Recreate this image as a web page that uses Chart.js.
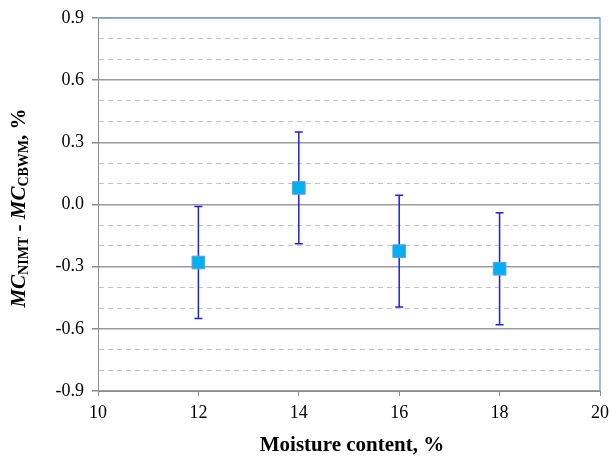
<!DOCTYPE html>
<html><head><meta charset="utf-8">
<script src="https://cdn.jsdelivr.net/npm/chart.js@4"></script>
<style>html,body{margin:0;padding:0;background:#fff}#wrap{width:610px;height:457px}</style>
</head><body><div id="wrap"><canvas id="c" width="610" height="457"></canvas></div>
<script>
const moisture = [12, 14, 16, 18];
const meanDiff = [-0.28, 0.08, -0.225, -0.31];
const errHalf = [0.27, 0.27, 0.27, 0.27];
const xTicks = [10, 12, 14, 16, 18, 20];
const yMajorTicks = [-0.9, -0.6, -0.3, 0.0, 0.3, 0.6, 0.9];

const SERIF = '"Liberation Serif","Times New Roman",serif';
const isMajor = v => Math.abs(Math.round(v * 10)) % 3 === 0;

const errorBars = {
  id: 'errorBars',
  beforeDatasetsDraw(chart) {
    const ctx = chart.ctx, xs = chart.scales.x, ys = chart.scales.y;
    ctx.save();
    ctx.strokeStyle = '#1f1fee';
    ctx.lineWidth = 1.5;
    moisture.forEach((m, i) => {
      const px = xs.getPixelForValue(m);
      const top = ys.getPixelForValue(meanDiff[i] + errHalf[i]);
      const bot = ys.getPixelForValue(meanDiff[i] - errHalf[i]);
      ctx.beginPath();
      ctx.moveTo(px, top); ctx.lineTo(px, bot);
      ctx.moveTo(px - 4, top); ctx.lineTo(px + 4, top);
      ctx.moveTo(px - 4, bot); ctx.lineTo(px + 4, bot);
      ctx.stroke();
    });
    ctx.restore();
  }
};

const frameAndTitles = {
  id: 'frameAndTitles',
  afterDraw(chart) {
    const ctx = chart.ctx, a = chart.chartArea;
    ctx.save();
    ctx.strokeStyle = '#7ea6d8';
    ctx.lineWidth = 1.5;
    ctx.beginPath();
    ctx.moveTo(a.left, a.top); ctx.lineTo(a.right, a.top); ctx.lineTo(a.right, a.bottom);
    ctx.stroke();
    // x title
    ctx.fillStyle = '#000';
    ctx.font = 'bold 21px ' + SERIF;
    ctx.textAlign = 'center'; ctx.textBaseline = 'middle';
    ctx.fillText('Moisture content, %', (a.left + a.right) / 2 + 3, a.bottom + 55);
    // y title with subscripts
    const parts = [
      ['MC', 'bold italic 21px ' + SERIF, 0],
      ['NIMT', 'bold 14px ' + SERIF, 3],
      [' - ', 'bold 21px ' + SERIF, 0],
      ['MC', 'bold italic 21px ' + SERIF, 0],
      ['CBWM', 'bold 14px ' + SERIF, 3],
      [', %', 'bold 21px ' + SERIF, 0]
    ];
    let total = 0;
    parts.forEach(p => { ctx.font = p[1]; total += ctx.measureText(p[0]).width; });
    ctx.translate(25, 208);
    ctx.rotate(-Math.PI / 2);
    ctx.textAlign = 'left'; ctx.textBaseline = 'alphabetic';
    let x = -total / 2;
    parts.forEach(p => { ctx.font = p[1]; ctx.fillText(p[0], x, p[2]); x += ctx.measureText(p[0]).width; });
    ctx.restore();
  }
};

new Chart(document.getElementById('c'), {
  type: 'scatter',
  data: {
    datasets: [{
      data: moisture.map((m, i) => ({ x: m, y: meanDiff[i] })),
      pointStyle: 'rect',
      pointRadius: 9,
      pointHoverRadius: 9,
      backgroundColor: '#00b0f0',
      borderColor: '#6f9fd8',
      borderWidth: 1
    }]
  },
  options: {
    responsive: false,
    animation: false,
    events: [],
    layout: { padding: { top: 18, right: 10, left: 0, bottom: 0 } },
    plugins: { legend: { display: false }, tooltip: { enabled: false } },
    scales: {
      x: {
        type: 'linear', min: 10, max: 20,
        afterBuildTicks: s => { s.ticks = xTicks.map(v => ({ value: v })); },
        afterFit: s => { s.height = 66; s.paddingRight = 0; s.paddingLeft = 0; },
        ticks: { color: '#000', font: { family: SERIF, size: 18 }, padding: 6, maxRotation: 0, autoSkip: false },
        grid: { drawOnChartArea: false, drawTicks: true, tickLength: 5, tickColor: '#8c8c8c' },
        border: { color: '#8c8c8c', width: 1 }
      },
      y: {
        type: 'linear', min: -0.9, max: 0.9,
        ticks: {
          stepSize: 0.1, autoSkip: false, color: '#000', font: { family: SERIF, size: 18 }, padding: 8,
          callback: v => isMajor(v) ? (Math.abs(v) < 1e-9 ? 0 : v).toFixed(1) : ''
        },
        afterFit: s => { s.width = 98; s.paddingTop = 0; s.paddingBottom = 0; },
        grid: {
          color: c => (c.tick && isMajor(c.tick.value)) ? '#9c9c9c' : '#c4c4c4',
          lineWidth: c => (c.tick && isMajor(c.tick.value)) ? 1.5 : 1,
          tickColor: c => (c.tick && isMajor(c.tick.value)) ? '#8c8c8c' : 'rgba(0,0,0,0)',
          tickLength: 6
        },
        border: {
          color: '#8c8c8c', width: 1,
          dash: c => (c.tick && !isMajor(c.tick.value)) ? [5, 4] : []
        }
      }
    }
  },
  plugins: [errorBars, frameAndTitles]
});
</script>
</body></html>
